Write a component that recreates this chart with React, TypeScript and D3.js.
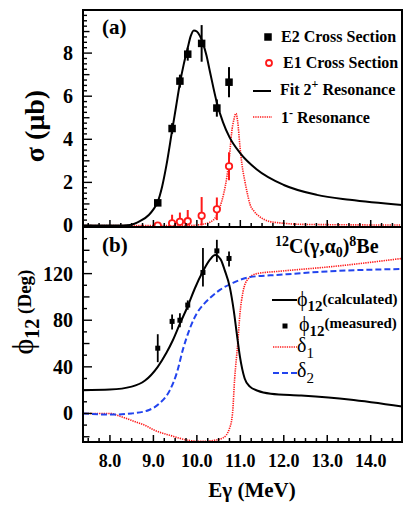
import React from "react";
import * as d3 from "d3";

// ---------- Panel (a): cross sections ----------
const e2Energy = [9.10, 9.43, 9.61, 9.79, 10.11, 10.46, 10.74];
const e2Sigma = [1.05, 4.5, 6.7, 7.95, 8.45, 5.45, 6.65];
const e2Err = [0.05, 0.25, 0.3, 0.3, 0.85, 0.4, 0.7];

const e1Energy = [9.10, 9.43, 9.61, 9.79, 10.11, 10.46, 10.74];
const e1Sigma = [0.0, 0.1, 0.17, 0.2, 0.45, 0.75, 2.75];
const e1Lo = [0.0, 0.0, 0.0, 0.0, 0.0, 0.25, 2.1];
const e1Hi = [0.0, 0.5, 0.6, 0.72, 1.32, 1.3, 3.4];

const fitE = [7.38, 8.3, 8.46, 8.69, 8.9, 9.0, 9.1, 9.2, 9.3, 9.43, 9.52, 9.61, 9.7, 9.79, 9.86, 9.93, 10.0, 10.07, 10.14, 10.22, 10.3, 10.46, 10.6, 10.75, 11.0, 11.38, 12.0, 12.76, 13.52, 14.72];
const fitSigma = [0, 0, 0.02, 0.2, 0.5, 0.75, 1.1, 1.8, 2.8, 4.4, 5.5, 6.6, 7.5, 8.25, 8.8, 9.05, 9.0, 8.8, 8.45, 7.9, 7.15, 5.7, 4.8, 4.1, 3.35, 2.6, 1.88, 1.42, 1.19, 0.95];

const resE = [7.38, 9.8, 10.1, 10.3, 10.45, 10.53, 10.62, 10.69, 10.75, 10.8, 10.85, 10.9, 10.94, 10.99, 11.04, 11.1, 11.16, 11.22, 11.32, 11.45, 11.65, 11.91, 12.5, 14.72];
const resSigma = [0, 0, 0.05, 0.15, 0.45, 0.85, 1.5, 2.25, 3.2, 4.3, 4.9, 5.2, 4.8, 3.7, 2.8, 2.1, 1.5, 1.0, 0.65, 0.4, 0.2, 0.12, 0.05, 0.02];

// ---------- Panel (b): phases ----------
const phiCalcE = [7.38, 8.0, 8.5, 8.8, 9.1, 9.3, 9.45, 9.61, 9.79, 9.95, 10.14, 10.3, 10.42, 10.55, 10.64, 10.76, 10.85, 10.92, 10.99, 11.1, 11.22, 11.4, 11.7, 12.4, 13.5, 14.72];
const phiCalc = [20, 20.5, 23, 28, 40, 52, 63, 77, 92, 107, 122, 132, 136, 132, 123, 108, 88, 68, 49, 30, 23, 19.5, 17, 15.4, 12, 6];

const phiMeasE = [9.10, 9.43, 9.61, 9.79, 10.14, 10.46, 10.74];
const phiMeas = [56, 79, 80, 93, 121, 139.5, 133];
const phiMeasLo = [44, 72, 74, 89, 109, 130, 126];
const phiMeasHi = [68, 85, 86, 97, 142, 149, 139];

const delta1E = [7.38, 8.0, 8.2, 8.5, 8.85, 9.0, 9.4, 9.8, 10.1, 10.4, 10.6, 10.75, 10.82, 10.87, 10.94, 10.99, 11.06, 11.17, 11.38, 11.9, 13.1, 14.72];
const delta1 = [0, 0, -2, -6, -11, -14, -19, -23, -24, -23, -21, -13, 0, 30, 60, 85, 104, 115, 120, 122, 126, 133];

const delta2E = [7.38, 8.0, 8.5, 8.9, 9.15, 9.38, 9.54, 9.68, 9.84, 10.0, 10.14, 10.3, 10.53, 10.83, 11.22, 11.91, 13.06, 14.72];
const delta2 = [0, -1, 0, 3, 9, 20, 35, 55, 73, 86, 93, 99, 106, 112, 117, 119, 122, 124];

// ---------- Axis ticks ----------
const xMajor = [8, 9, 10, 11, 12, 13, 14];
const xLabels = ["8.0", "9.0", "10.0", "11.0", "12.0", "13.0", "14.0"];
const yAMajor = [0, 2, 4, 6, 8];
const yBMajor = [0, 40, 80, 120];

const SERIF = "'Liberation Serif', 'Times New Roman', serif";
const RED = "#ff1a1a";
const BLUE = "#2244ee";
const PHI = "\u03D5";

export default function App() {
  const L = 83, R = 402, T = 10, M = 227, B = 442;
  const x = d3.scaleLinear().domain([7.38, 14.72]).range([L, R]);
  const yA = d3.scaleLinear().domain([-0.07, 10]).range([M, T]);
  const yB = d3.scaleLinear().domain([-24.5, 160]).range([B, M]);

  const mkLine = (xs: number[], ys: number[], ys2: d3.ScaleLinear<number, number>) =>
    d3
      .line<number>()
      .x((d) => x(d))
      .y((_, i) => ys2(ys[i]))
      .curve(d3.curveMonotoneX)(xs) || "";

  const xMinor = d3.range(7.5, 14.7, 0.25);
  const yAMinor = d3.range(0, 10.01, 0.25);
  const yBMinor = d3.range(-20, 160.1, 10);

  const xTicksAt = (yBase: number, key: string) => (
    <g key={key}>
      {xMinor.map((v, i) => {
        const isMajor = Math.abs(v - Math.round(v)) < 1e-6;
        const len = isMajor ? 7 : 4;
        return <line key={i} x1={x(v)} x2={x(v)} y1={yBase} y2={yBase - len} stroke="#000" strokeWidth={1.5} />;
      })}
    </g>
  );

  const sq = 7.5;
  const sqB = 5;

  return (
    <svg width={415} height={510} style={{ position: "absolute", left: 0, top: 0, background: "#fff" }} fontFamily={SERIF}>
      <defs>
        <clipPath id="clipA">
          <rect x={L} y={T} width={R - L} height={M - T} />
        </clipPath>
        <clipPath id="clipB">
          <rect x={L} y={M} width={R - L} height={B - M} />
        </clipPath>
      </defs>
      <rect x={0} y={0} width={415} height={510} fill="#fff" />

      {/* ---------- Panel (a) ---------- */}
      <g clipPath="url(#clipA)">
        <path d={mkLine(resE, resSigma, yA)} fill="none" stroke={RED} strokeWidth={1.6} strokeDasharray="1.3 1" />
        <path d={mkLine(fitE, fitSigma, yA)} fill="none" stroke="#000" strokeWidth={2} />
        {e1Energy.map((e, i) => (
          <g key={"e1" + i}>
            {e1Hi[i] > e1Lo[i] && (
              <line x1={x(e)} x2={x(e)} y1={yA(e1Lo[i])} y2={yA(e1Hi[i])} stroke={RED} strokeWidth={2} />
            )}
            <circle cx={x(e)} cy={yA(e1Sigma[i])} r={3.2} fill="#fff" stroke={RED} strokeWidth={1.8} />
          </g>
        ))}
        {e2Energy.map((e, i) => (
          <g key={"e2" + i}>
            <line x1={x(e)} x2={x(e)} y1={yA(e2Sigma[i] - e2Err[i])} y2={yA(e2Sigma[i] + e2Err[i])} stroke="#000" strokeWidth={2} />
            <rect x={x(e) - sq / 2} y={yA(e2Sigma[i]) - sq / 2} width={sq} height={sq} fill="#000" />
          </g>
        ))}
      </g>

      {/* left axis ticks (a) */}
      {yAMinor.map((v, i) => {
        const isMajor = Math.abs(v / 2 - Math.round(v / 2)) < 1e-6;
        const isMed = !isMajor && Math.abs(v - Math.round(v)) < 1e-6;
        const len = isMajor ? 9 : isMed ? 6.5 : 4;
        return <line key={"ta" + i} x1={L} x2={L + len} y1={yA(v)} y2={yA(v)} stroke="#000" strokeWidth={1.4} />;
      })}
      {xTicksAt(M, "xa")}
      {yAMajor.map((v) => (
        <text key={"la" + v} x={73} y={yA(v)} dy="0.35em" textAnchor="end" fontSize={20} fontWeight="bold">
          {v}
        </text>
      ))}
      <rect x={L} y={T} width={R - L} height={M - T} fill="none" stroke="#000" strokeWidth={2} />
      <text x={102} y={34} fontSize={21} fontWeight="bold">(a)</text>

      {/* legend (a) */}
      <rect x={268 - sq / 2} y={37 - sq / 2} width={sq} height={sq} fill="#000" />
      <text x={281} y={42} fontSize={16} fontWeight="bold">E2 Cross Section</text>
      <circle cx={269} cy={63} r={3} fill="#fff" stroke={RED} strokeWidth={1.8} />
      <text x={283} y={67.5} fontSize={16} fontWeight="bold">E1 Cross Section</text>
      <line x1={253} x2={271} y1={91} y2={91} stroke="#000" strokeWidth={2} />
      <text x={280} y={95} fontSize={16} fontWeight="bold">
        Fit 2<tspan dy={-7} fontSize={12}>+</tspan>
        <tspan dy={7}> Resonance</tspan>
      </text>
      <line x1={253} x2={272} y1={117} y2={117} stroke={RED} strokeWidth={1.6} strokeDasharray="1.3 1" />
      <text x={281} y={123} fontSize={16} fontWeight="bold">
        1<tspan dy={-6} fontSize={12}>-</tspan>
        <tspan dy={6}> Resonance</tspan>
      </text>

      {/* ---------- Panel (b) ---------- */}
      <g clipPath="url(#clipB)">
        <path d={mkLine(delta1E, delta1, yB)} fill="none" stroke={RED} strokeWidth={1.6} strokeDasharray="1.3 1" />
        <path d={mkLine(delta2E, delta2, yB)} fill="none" stroke={BLUE} strokeWidth={2} strokeDasharray="6 3" />
        <path d={mkLine(phiCalcE, phiCalc, yB)} fill="none" stroke="#000" strokeWidth={2} />
        {phiMeasE.map((e, i) => (
          <g key={"pm" + i}>
            <line x1={x(e)} x2={x(e)} y1={yB(phiMeasLo[i])} y2={yB(phiMeasHi[i])} stroke="#000" strokeWidth={1.8} />
            <rect x={x(e) - sqB / 2} y={yB(phiMeas[i]) - sqB / 2} width={sqB} height={sqB} fill="#000" />
          </g>
        ))}
      </g>

      {yBMinor.map((v, i) => {
        const isMajor = Math.abs(v / 40 - Math.round(v / 40)) < 1e-6;
        const isMed = !isMajor && Math.abs(v / 20 - Math.round(v / 20)) < 1e-6;
        const len = isMajor ? 9 : isMed ? 6.5 : 4;
        return <line key={"tb" + i} x1={L} x2={L + len} y1={yB(v)} y2={yB(v)} stroke="#000" strokeWidth={1.4} />;
      })}
      {xTicksAt(B, "xb")}
      {yBMajor.map((v) => (
        <text key={"lb" + v} x={73} y={yB(v)} dy="0.35em" textAnchor="end" fontSize={20} fontWeight="bold">
          {v}
        </text>
      ))}
      {xMajor.map((v, i) => (
        <text key={"lx" + v} x={x(v)} y={467} textAnchor="middle" fontSize={18} fontWeight="bold">
          {xLabels[i]}
        </text>
      ))}
      <rect x={L} y={M} width={R - L} height={B - M} fill="none" stroke="#000" strokeWidth={2} />
      <text x={102} y={252} fontSize={21} fontWeight="bold">(b)</text>

      <text x={275} y={253} fontSize={20} fontWeight="bold">
        <tspan fontSize={14} dy={-7}>12</tspan>
        <tspan dy={7}>C(γ,α</tspan>
        <tspan fontSize={14} dy={4}>0</tspan>
        <tspan dy={-4}>)</tspan>
        <tspan fontSize={14} dy={-7}>8</tspan>
        <tspan dy={7}>Be</tspan>
      </text>

      {/* legend (b) */}
      <line x1={272} x2={297} y1={300} y2={300} stroke="#000" strokeWidth={2} />
      <text x={297} y={306} fontSize={20}>
        {PHI}<tspan fontSize={15} fontWeight="bold" dy={5}>12</tspan>
        <tspan fontSize={15} fontWeight="bold" dy={-7}>(calculated)</tspan>
      </text>
      <rect x={285 - 2.5} y={326 - 2.5} width={5} height={5} fill="#000" />
      <text x={299} y={331} fontSize={20}>
        {PHI}<tspan fontSize={15} fontWeight="bold" dy={5}>12</tspan>
        <tspan fontSize={15} fontWeight="bold" dy={-8}>(measured)</tspan>
      </text>
      <line x1={273} x2={297} y1={347} y2={347} stroke={RED} strokeWidth={1.6} strokeDasharray="1.3 1" />
      <text x={297} y={352} fontSize={20}>
        δ<tspan fontSize={15} dy={6}>1</tspan>
      </text>
      <line x1={273} x2={297} y1={373} y2={373} stroke={BLUE} strokeWidth={2} strokeDasharray="6 3" />
      <text x={297} y={377} fontSize={20}>
        δ<tspan fontSize={15} dy={6}>2</tspan>
      </text>

      {/* axis titles */}
      <text transform="translate(44,126) rotate(-90)" textAnchor="middle" fontSize={28} fontWeight="bold">
        σ (μb)
      </text>
      <text transform="translate(33,312) rotate(-90)" textAnchor="middle" fontSize={30}>
        {PHI}<tspan fontSize={20} fontWeight="bold" dy={6}>12</tspan>
        <tspan fontSize={19} fontWeight="bold" dy={-8}> (Deg)</tspan>
      </text>
      <text x={252} y={497} textAnchor="middle" fontSize={21} fontWeight="bold">
        Eγ (MeV)
      </text>
    </svg>
  );
}
